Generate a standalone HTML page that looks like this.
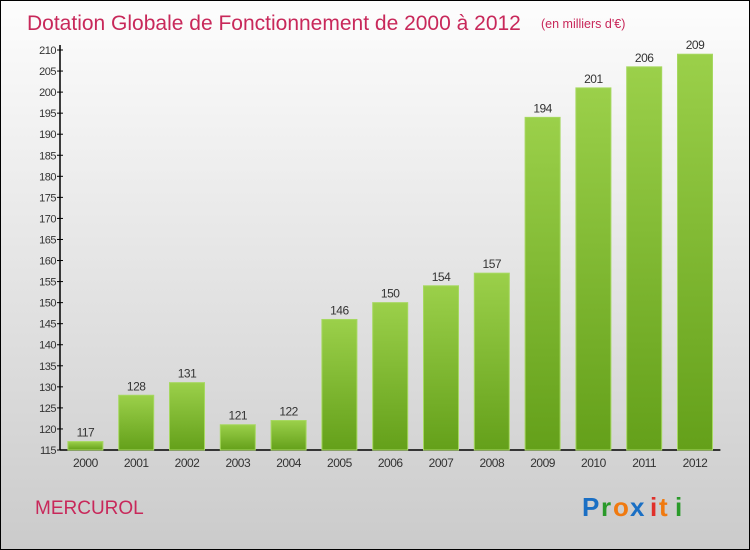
<!DOCTYPE html>
<html><head><meta charset="utf-8"><style>
body{margin:0}
#c{position:relative;width:748px;height:548px;border:1px solid #000;background:linear-gradient(#fdfdfd,#cbcbcb);overflow:hidden;font-family:"Liberation Sans",sans-serif}
</style></head><body>
<div id="c">
<svg width="748" height="548" viewBox="1 1 748 548" style="position:absolute;left:0;top:0">
<defs>
<linearGradient id="g" x1="0" y1="0" x2="0" y2="1"><stop offset="0" stop-color="#9bd04a"/><stop offset="1" stop-color="#64a01a"/></linearGradient>
</defs>
<text x="27" y="30" font-size="21" fill="#c8285a">Dotation Globale de Fonctionnement de 2000 à 2012</text>
<text x="541" y="28" font-size="12.5" fill="#c8285a">(en milliers d'€)</text>
<g id="axes"></g>
<g id="bars"></g>
<text x="35" y="514" font-size="19" fill="#c8285a">MERCUROL</text>
<g font-family="'Liberation Sans',sans-serif" font-size="26" font-weight="bold">
<text x="582" y="516" fill="#1a6fc4">P</text><text x="601" y="516" fill="#2a9a2a">r</text><text x="613" y="516" fill="#f07a10">o</text><text x="630" y="516" fill="#1a6fc4">x</text><text x="650" y="516" fill="#e0302a">i</text><text x="659" y="516" fill="#f07a10">t</text><text x="675" y="516" fill="#2a9a2a">i</text>
</g>
</svg>
</div>
<script>
const categories=["2000","2001","2002","2003","2004","2005","2006","2007","2008","2009","2010","2011","2012"];
const values=[117,128,131,121,122,146,150,154,157,194,201,206,209];
const yTicks=[115,120,125,130,135,140,145,150,155,160,165,170,175,180,185,190,195,200,205,210];
const NS="http://www.w3.org/2000/svg";
const x0=60,band=50.8,bw=35,yMin=115,yMax=210,yTop=50,yBot=450;
const y=v=>yBot-(v-yMin)/(yMax-yMin)*(yBot-yTop);
const xc=i=>x0+band*(i+0.5);
function mk(t,a,p){const e=document.createElementNS(NS,t);for(const k in a)e.setAttribute(k,a[k]);p.appendChild(e);return e;}
const ax=document.getElementById('axes'),bars=document.getElementById('bars');
let l=mk('line',{x1:x0,y1:yTop-5,x2:x0,y2:yBot,stroke:'#000','stroke-width':1.5},ax);


l=mk('line',{x1:x0,y1:yBot,x2:x0+band*13,y2:yBot,stroke:'#000','stroke-width':1.5},ax);


yTicks.forEach(v=>{
  const tk=mk('line',{x1:x0-3,y1:y(v),x2:x0+3,y2:y(v),stroke:'#000'},ax);
  
  
  const t=mk('text',{x:x0-4,y:y(v)+4,'font-size':11,'text-anchor':'end',fill:'#333','letter-spacing':'-0.5'},ax);
  t.textContent=v;
  
  
});
categories.forEach((c,i)=>{
  const r=mk('rect',{x:xc(i)-bw/2,y:y(values[i]),width:bw,height:yBot-y(values[i]),fill:'url(#g)',stroke:'#a6d860','stroke-width':1},bars);
  
  
  const t=mk('text',{x:xc(i),y:y(values[i])-5,'font-size':12,'text-anchor':'middle',fill:'#333','letter-spacing':'-0.5'},bars);
  t.textContent=values[i];
  
  
  const xl=mk('text',{x:xc(i),y:yBot+17,'font-size':12,'text-anchor':'middle',fill:'#333','letter-spacing':'-0.5'},bars);
  xl.textContent=c;
  
  
});
</script>
</body></html>
